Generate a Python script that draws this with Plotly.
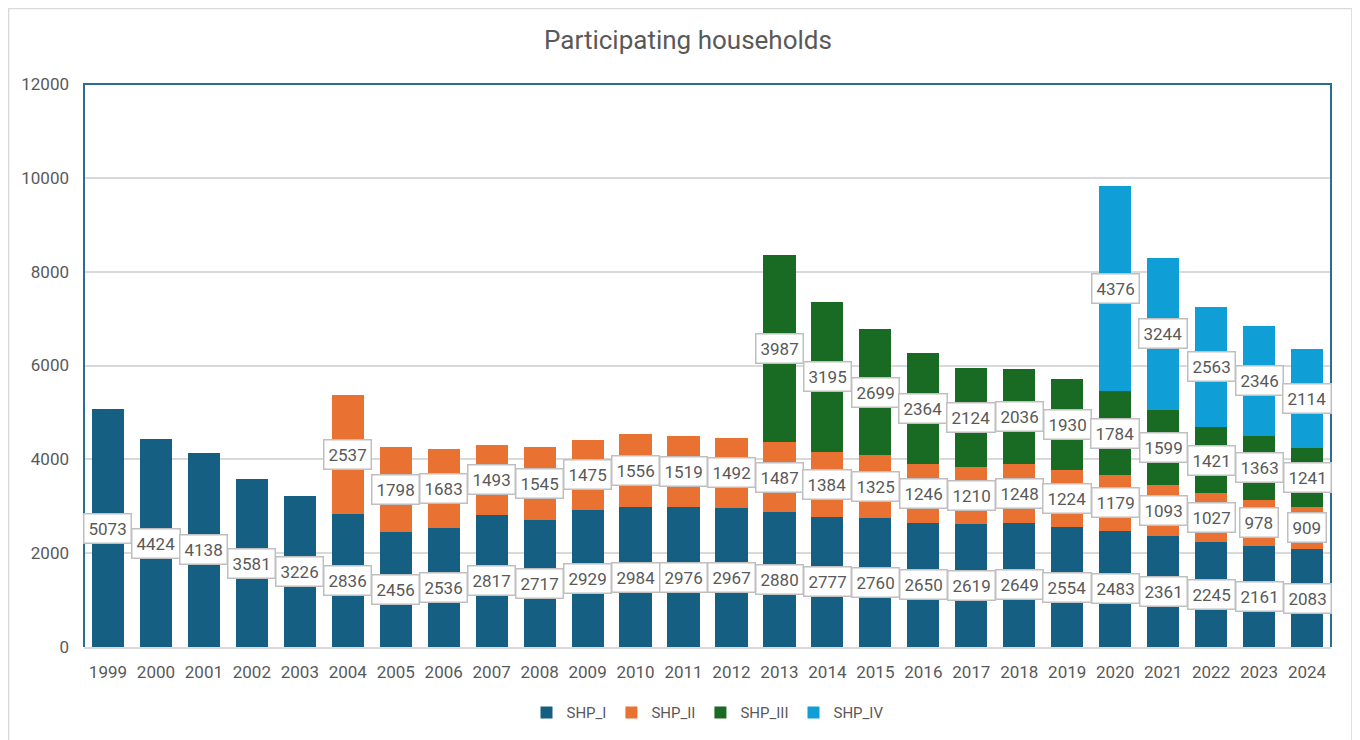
import plotly.graph_objects as go

years = [str(y) for y in range(1999, 2025)]
shp_i = [5073, 4424, 4138, 3581, 3226, 2836, 2456, 2536, 2817, 2717, 2929, 2984, 2976,
         2967, 2880, 2777, 2760, 2650, 2619, 2649, 2554, 2483, 2361, 2245, 2161, 2083]
shp_ii = [None] * 5 + [2537, 1798, 1683, 1493, 1545, 1475, 1556, 1519, 1492, 1487, 1384,
                       1325, 1246, 1210, 1248, 1224, 1179, 1093, 1027, 978, 909]
shp_iii = [None] * 14 + [3987, 3195, 2699, 2364, 2124, 2036, 1930, 1784, 1599, 1421, 1363, 1241]
shp_iv = [None] * 21 + [4376, 3244, 2563, 2346, 2114]

series = [("SHP_I", shp_i, "#156082"), ("SHP_II", shp_ii, "#E97132"),
          ("SHP_III", shp_iii, "#196B24"), ("SHP_IV", shp_iv, "#0F9ED5")]

FONT = "Roboto"
GRAY = "#595959"

fig = go.Figure()
base = [0] * len(years)
annotations = []
for name, vals, color in series:
    fig.add_trace(go.Bar(x=years, y=vals, name=name, marker_color=color,
                         marker_line_width=0))
    for i, v in enumerate(vals):
        if v is None:
            continue
        annotations.append(dict(x=i, y=base[i] + v / 2, xref="x", yref="y",
                                text=str(v), showarrow=False,
                                font=dict(family=FONT, size=17, color=GRAY),
                                bgcolor="white", bordercolor="#BFBFBF", borderwidth=1.5,
                                borderpad=4))
        base[i] += v

shapes = [
    # outer chart border
    dict(type="rect", xref="paper", yref="paper", x0=-0.0605, x1=1.0168, y0=-0.188, y1=1.134,
         line=dict(color="#D9D9D9", width=1.5), layer="below"),
    # plot area frame (left, top, right)
    dict(type="path", xref="paper", yref="paper", path="M 0 0 L 0 1 L 1 1 L 1 0",
         line=dict(color="#2A6F93", width=2), layer="above"),
]

fig.update_layout(
    barmode="stack",
    bargap=0.33,
    width=1360, height=740,
    margin=dict(l=76, r=37, t=76, b=101),
    paper_bgcolor="white", plot_bgcolor="white",
    font=dict(family=FONT, color=GRAY, size=16),
    title=dict(text="Participating households", x=0.5, xanchor="center", y=0.957,
               yanchor="middle", font=dict(family=FONT, size=26, color=GRAY)),
    legend=dict(orientation="h", x=0.5, xanchor="center", y=-0.117, yanchor="middle",
                font=dict(family=FONT, size=15, color=GRAY), traceorder="normal",
                itemwidth=30, entrywidthmode="pixels"),
    annotations=annotations,
    shapes=shapes,
    xaxis=dict(type="category", range=[-0.5, len(years) - 0.5], automargin=False,
               showline=True, linecolor="#D9D9D9", linewidth=1.5,
               ticks="", tickfont=dict(family=FONT, size=17, color=GRAY), ticklabelstandoff=9),
    yaxis=dict(range=[0, 12000], dtick=2000, tickformat="d", automargin=False,
               showgrid=True, gridcolor="#D9D9D9",
               gridwidth=1.5, zeroline=False, ticks="",
               tickfont=dict(family=FONT, size=17, color=GRAY), ticklabelstandoff=14),
)

fig.write_html("out.html")
